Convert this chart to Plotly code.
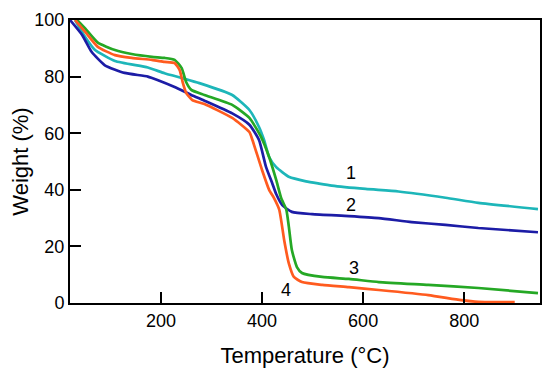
import plotly.graph_objects as go

# Curve 1 (cyan)
t1 = [30, 50, 69, 109, 174, 207, 241, 276, 341, 375, 394, 404, 414, 428, 454, 487, 513, 538, 605, 670, 763, 828, 946]
w1 = [100, 94, 89.5, 85.5, 83.2, 81.2, 79.5, 77.7, 73.5, 68.2, 62.2, 57.6, 51.6, 48, 44.5, 43, 42.2, 41.5, 40.3, 39.4, 37.2, 35.4, 33.2]

# Curve 2 (navy)
t2 = [20, 44, 63, 89, 128, 174, 193, 227, 260, 286, 341, 375, 394, 408, 420, 428, 440, 459, 499, 572, 631, 696, 763, 828, 946]
w2 = [100, 94.7, 88.7, 84, 81.3, 80, 78.8, 76.3, 73.5, 71.5, 67, 63, 57.6, 48, 42.4, 38.5, 34.6, 32.2, 31.4, 30.7, 30, 28.6, 27.6, 26.5, 25]

# Curve 3 (green)
t3 = [34, 50, 75, 109, 142, 182, 207, 227, 241, 250, 260, 286, 341, 375, 398, 414, 428, 438, 448, 453, 459, 469, 479, 519, 572, 631, 729, 828, 946]
w3 = [100, 97, 92, 89.4, 88, 87, 86.6, 85.9, 83, 78, 75.3, 73.5, 70, 65.4, 58.7, 51.6, 43.5, 37, 33, 27, 18.7, 12.7, 10.6, 9.2, 8.5, 7.4, 6.4, 5.3, 3.5]

# Curve 4 (orange)
t4 = [30, 50, 75, 109, 142, 182, 207, 227, 237, 243, 250, 262, 286, 341, 375, 381, 400, 414, 424, 434, 444, 453, 463, 479, 519, 572, 631, 729, 794, 828, 900]
w4 = [100, 95.8, 90.5, 87.6, 86.6, 85.9, 85.2, 84.8, 82.3, 78, 74.2, 71.7, 70.3, 65.4, 60.4, 57.6, 47, 40, 37, 33, 22, 14, 9.2, 7.4, 6.4, 5.6, 4.6, 2.8, 1, 0.4, 0.3]

curve_labels = ["1", "2", "3", "4"]
label_t = [576, 576, 582, 448]
label_w = [46, 34.6, 12.4, 4.6]

x_ticks = [200, 400, 600, 800]
y_ticks = [0, 20, 40, 60, 80, 100]

colors = ["#1db6b9", "#1c1ca6", "#25a825", "#ff5b1f"]
FONT = "Arial, 'Liberation Sans', sans-serif"

fig = go.Figure()
for t, w, c in zip([t1, t2, t3, t4], [w1, w2, w3, w4], colors):
    fig.add_trace(go.Scatter(x=t, y=w, mode="lines",
                             line=dict(color=c, width=2.7, shape="spline", smoothing=0.5),
                             showlegend=False, hoverinfo="skip"))

for lab, x, y in zip(curve_labels, label_t, label_w):
    fig.add_annotation(x=x, y=y, text=lab, showarrow=False,
                       font=dict(size=18, color="black", family=FONT))

axis_common = dict(showline=True, linecolor="black", linewidth=2, mirror=True,
                   ticks="inside", ticklen=11, tickwidth=2, tickcolor="black",
                   showgrid=False, zeroline=False, automargin=False,
                   tickfont=dict(size=18, color="black", family=FONT))

fig.update_xaxes(range=[20, 950], tickvals=x_ticks,
                 title=dict(text="Temperature (°C)", font=dict(size=22, color="black", family=FONT),
                            standoff=18),
                 **axis_common)
fig.update_yaxes(range=[0, 100], tickvals=y_ticks,
                 title=dict(text="Weight (%)", font=dict(size=22, color="black", family=FONT),
                            standoff=8),
                 **axis_common)

fig.update_layout(width=550, height=378, margin=dict(l=62, r=18, t=12, b=83),
                  plot_bgcolor="white", paper_bgcolor="white")

fig.write_html("out.html")
